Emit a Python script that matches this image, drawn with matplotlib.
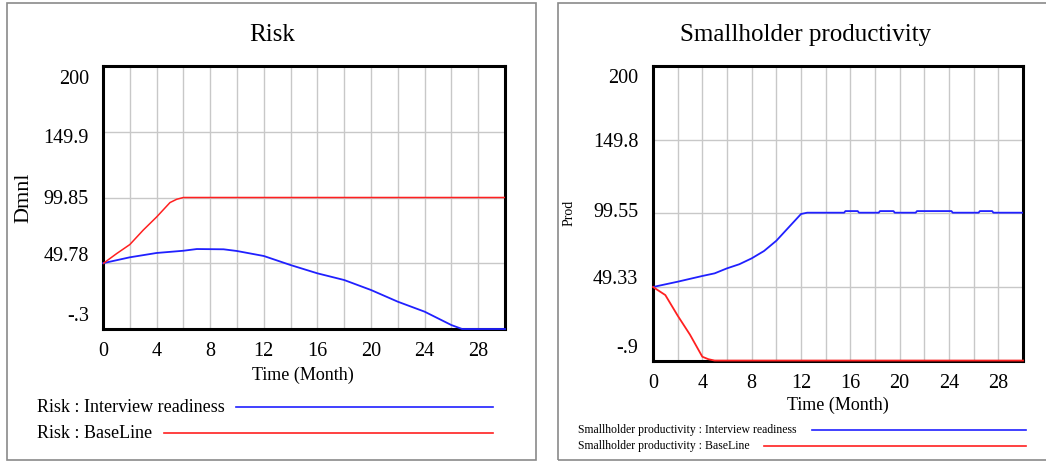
import matplotlib
matplotlib.use('Agg')
import matplotlib.pyplot as plt
from matplotlib.lines import Line2D
from matplotlib.patches import Rectangle

plt.rcParams['font.family'] = ['Liberation Serif', 'DejaVu Serif']

# Risk panel data
risk_t = [0, 1, 2, 3, 4, 5, 5.5, 6, 30]
risk_base = [49.5, 57, 64, 75, 85, 96, 98.5, 99.85, 99.85]
risk_iv_t = [0, 2, 4, 6, 7, 9, 10, 12, 14, 16, 18, 20, 22, 24, 26, 26.8, 30]
risk_iv = [49.8, 54.3, 57.6, 59.3, 60.6, 60.4, 59.1, 55.3, 48.4, 42.1, 37.0,
           29.4, 20.5, 12.9, 2.7, -0.3, -0.3]
risk_yticks = [200, 149.9, 99.85, 49.78, -0.3]
risk_ylabels = ['200', '149.9', '99.85', '49.78', '-.3']

# Smallholder productivity panel data
prod_iv_t = [0, 2, 4, 5, 6, 7, 8, 9, 10, 11, 12, 12.5, 15.5, 15.6, 16.6, 16.7,
             18.3, 18.4, 19.5, 19.6, 21.3, 21.4, 24.2, 24.3, 26.4, 26.5, 27.5, 27.6, 30]
prod_iv = [49.5, 53.1, 57.0, 58.8, 62.2, 65.0, 69.0, 74.0, 81.0, 90.1, 99.2, 100.1,
           100.1, 101.2, 101.2, 100.1, 100.1, 101.2, 101.2, 100.1, 100.1, 101.2,
           101.2, 100.1, 100.1, 101.2, 101.2, 100.1, 100.1]
prod_base_t = [0, 1, 2, 3, 4, 4.5, 5, 30]
prod_base = [49.5, 44, 30, 17, 2, 0.3, -0.6, -0.6]
prod_yticks = [200, 149.8, 99.55, 49.33, -0.9]
prod_ylabels = ['200', '149.8', '99.55', '49.33', '-.9']

fig = plt.figure(figsize=(10.46, 4.61), dpi=100)

# panel frames
fig.add_artist(Rectangle((7/1046, 1/461), 529/1046, 457/461, fill=False,
                         edgecolor='#8a8a8a', lw=1.2, transform=fig.transFigure))
fig.add_artist(Rectangle((558/1046, 1/461), 490/1046, 457/461, fill=False,
                         edgecolor='#8a8a8a', lw=1.2, transform=fig.transFigure))


def setup(ax, yticks, ylabels, label_fracs, pad, tick_size):
    ax.set_xlim(0, 30)
    ax.set_ylim(yticks[-1], yticks[0])
    ax.set_xticks(range(0, 30, 2))
    ax.set_xticklabels([str(v) if v % 4 == 0 else '' for v in range(0, 30, 2)],
                       fontsize=tick_size)
    ax.set_yticks(yticks[1:-1])
    ax.set_yticklabels([])
    ax.tick_params(length=0, pad=9)
    ax.grid(True, color='#c8c8c8', lw=1)
    ax.set_axisbelow(True)
    for s in ax.spines.values():
        s.set_linewidth(2.2)
        s.set_color('black')
    for lab, fr in zip(ylabels, label_fracs):
        ax.text(-pad, fr, lab, transform=ax.transAxes, ha='right', va='center',
                fontsize=tick_size)


# Risk
ax1 = fig.add_axes([103/1046, 132/461, 402/1046, 263/461])
setup(ax1, risk_yticks, risk_ylabels, [0.95, 0.726, 0.494, 0.274, 0.046], 0.035, 14.5)
l1, = ax1.plot(risk_iv_t, risk_iv, color='#2020ff', lw=1.3, clip_on=False, zorder=3)
l2, = ax1.plot(risk_t, risk_base, color='#ff2020', lw=1.1, zorder=3)
fig.text(272/1046, 1 - 35/461, 'Risk', ha='center', va='center', fontsize=18)
fig.text(303/1046, 1 - 375/461, 'Time (Month)', ha='center', va='center', fontsize=13)
fig.text(24/1046, 1 - 198/461, 'Dmnl', ha='center', va='center', rotation=90, fontsize=16)
fig.text(37/1046, 1 - 407/461, 'Risk : Interview readiness', ha='left', va='center', fontsize=13)
fig.text(37/1046, 1 - 433/461, 'Risk : BaseLine', ha='left', va='center', fontsize=13)
fig.add_artist(Line2D([236/1046, 493/1046], [1 - 407/461] * 2, color=l1.get_color(), lw=1.2))
fig.add_artist(Line2D([164/1046, 493/1046], [1 - 433/461] * 2, color=l2.get_color(), lw=1.2))

# Smallholder productivity
ax2 = fig.add_axes([653/1046, 100/461, 370/1046, 295/461])
setup(ax2, prod_yticks, prod_ylabels, [0.959, 0.739, 0.505, 0.275, 0.044], 0.04, 14.5)
l3, = ax2.plot(prod_iv_t, prod_iv, color='#2020ff', lw=1.3, zorder=3)
l4, = ax2.plot(prod_base_t, prod_base, color='#ff2020', lw=1.3, clip_on=False, zorder=3)
fig.text(806/1046, 1 - 35/461, 'Smallholder productivity', ha='center', va='center', fontsize=18)
fig.text(838/1046, 1 - 405/461, 'Time (Month)', ha='center', va='center', fontsize=13)
fig.text(569/1046, 1 - 213/461, 'Prod', ha='center', va='center', rotation=90, fontsize=10)
fig.text(578/1046, 1 - 430/461, 'Smallholder productivity : Interview readiness',
         ha='left', va='center', fontsize=8.5)
fig.text(578/1046, 1 - 446/461, 'Smallholder productivity : BaseLine',
         ha='left', va='center', fontsize=8.5)
fig.add_artist(Line2D([812/1046, 1026/1046], [1 - 430/461] * 2, color=l3.get_color(), lw=1.2))
fig.add_artist(Line2D([764/1046, 1026/1046], [1 - 446/461] * 2, color=l4.get_color(), lw=1.2))

fig.savefig('out.png', dpi=100)
